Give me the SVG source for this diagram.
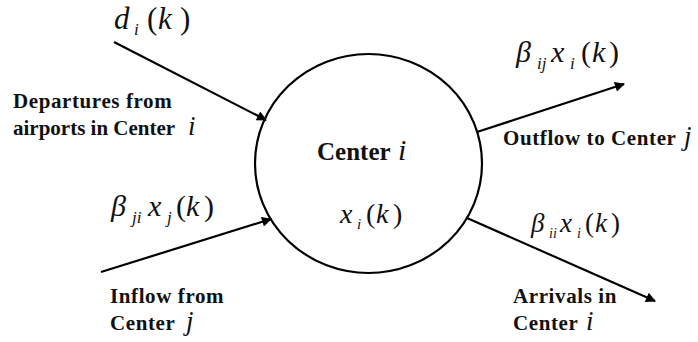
<svg xmlns="http://www.w3.org/2000/svg" width="698" height="342" viewBox="0 0 698 342">
<style>
.lbl{font-family:'Liberation Serif','Times New Roman',serif;font-weight:bold;font-size:21px;letter-spacing:0.6px;fill:#111}
.m{font-family:'Liberation Serif','Times New Roman',serif;font-size:30px;fill:#111}
.it{font-style:italic}
.sub{font-size:17px;font-style:italic}
.mi{font-family:'Liberation Serif','Times New Roman',serif;font-style:italic;font-weight:normal;font-size:27px;letter-spacing:0}
.conn line{stroke:#000;stroke-width:2.2}
</style>
<defs>
<marker id="ah" viewBox="0 0 10 10" refX="9" refY="5" markerWidth="14" markerHeight="10" markerUnits="userSpaceOnUse" orient="auto">
<path d="M0,0 L10,5 L0,10 z" fill="#000"/>
</marker>
</defs>
<rect width="698" height="342" fill="#fff"/>
<g id="center">
<ellipse cx="368.5" cy="163.5" rx="113.5" ry="109.5" fill="#fff" stroke="#000" stroke-width="2.2"/>
<text class="lbl" x="317" y="160" style="font-size:25px;letter-spacing:0">Center <tspan class="mi" x="398" style="font-size:30px">i</tspan></text>
<text class="m" y="223" style="font-size:28px"><tspan class="it" x="340">x</tspan><tspan class="sub" x="357" dy="6" style="font-size:15px">i</tspan><tspan x="366" dy="-6">(</tspan><tspan class="it" x="376">k</tspan><tspan x="393">)</tspan></text>
</g>
<g class="conn" id="connectors">
<line x1="114" y1="42" x2="266" y2="120" marker-end="url(#ah)"/>
<line x1="101" y1="272" x2="271" y2="219" marker-end="url(#ah)"/>
<line x1="477" y1="132" x2="624" y2="84" marker-end="url(#ah)"/>
<line x1="467" y1="218" x2="655" y2="301" marker-end="url(#ah)"/>
</g>
<g id="departures">
<text class="m" y="29" style="font-size:31px"><tspan class="it" x="114">d</tspan><tspan class="sub" x="134" dy="6">i</tspan><tspan x="147" dy="-6">(</tspan><tspan class="it" x="158">k</tspan><tspan x="180">)</tspan></text>
<text class="lbl" x="13" y="108">Departures from</text>
<text class="lbl" x="13" y="135" style="letter-spacing:0">airports in Center <tspan class="mi" x="188">i</tspan></text>
</g>
<g id="inflow">
<text class="m" y="216"><tspan class="it" x="111">β</tspan><tspan class="sub" x="132" dy="7">ji</tspan><tspan class="it" x="148" dy="-7">x</tspan><tspan class="sub" x="167" dy="7">j</tspan><tspan x="176" dy="-7">(</tspan><tspan class="it" x="186">k</tspan><tspan x="204">)</tspan></text>
<text class="lbl" x="110" y="303">Inflow from</text>
<text class="lbl" x="110" y="330">Center <tspan class="mi" x="186">j</tspan></text>
</g>
<g id="outflow">
<text class="m" y="62"><tspan class="it" x="516">β</tspan><tspan class="sub" x="537" dy="7">ij</tspan><tspan class="it" x="551" dy="-7">x</tspan><tspan class="sub" x="570" dy="7">i</tspan><tspan x="581" dy="-7">(</tspan><tspan class="it" x="592">k</tspan><tspan x="609">)</tspan></text>
<text class="lbl" x="503" y="145">Outflow to Center <tspan class="mi" x="684">j</tspan></text>
</g>
<g id="arrivals">
<text class="m" y="232" style="font-size:27px"><tspan class="it" x="531">β</tspan><tspan class="sub" x="549" dy="6" style="font-size:14px">ii</tspan><tspan class="it" x="560" dy="-6">x</tspan><tspan class="sub" x="577" dy="6" style="font-size:14px">i</tspan><tspan x="585" dy="-6">(</tspan><tspan class="it" x="595">k</tspan><tspan x="611">)</tspan></text>
<text class="lbl" x="513" y="303">Arrivals in</text>
<text class="lbl" x="513" y="330">Center <tspan class="mi" x="586">i</tspan></text>
</g>
</svg>
